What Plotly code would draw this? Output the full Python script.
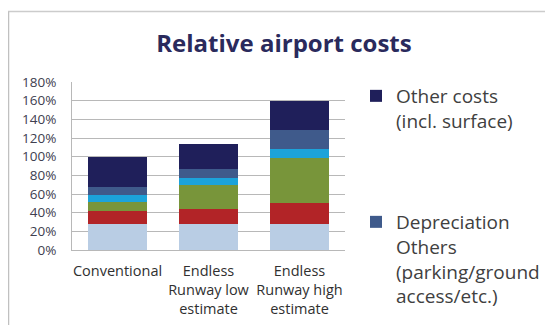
import plotly.graph_objects as go

categories = ["Conventional", "Endless<br>Runway low<br>estimate", "Endless<br>Runway high<br>estimate"]

# stacked shares (%), bottom to top
seg1 = [28, 28, 28]   # light blue
seg2 = [14, 16, 22]   # red
seg3 = [9, 26, 49]    # green
seg4 = [8, 7, 9]      # cyan
seg5 = [9, 10, 21]    # slate (Depreciation)
seg6 = [32, 27, 31]   # navy (Other costs)

series_names = ["Component 1", "Component 2", "Component 3", "Component 4",
                "Depreciation<br>Others<br>(parking/ground<br>access/etc.)",
                "Other costs<br>(incl. surface)"]
series_values = [seg1, seg2, seg3, seg4, seg5, seg6]
colors = ["#b9cde4", "#b22427", "#78953a", "#1ca3da", "#3f5a8b", "#1f1f5a"]
show = [False, False, False, False, True, True]
legends = ["legend", "legend", "legend", "legend", "legend2", "legend"]

tick_vals = [0, 20, 40, 60, 80, 100, 120, 140, 160, 180]
tick_text = ["0%", "20%", "40%", "60%", "80%", "100%", "120%", "140%", "160%", "180%"]

FONT = "Open Sans"

fig = go.Figure()
for name, vals, col, sh, lg in zip(series_names, series_values, colors, show, legends):
    fig.add_trace(go.Bar(x=categories, y=vals, name=name, marker_color=col,
                         marker_line_width=0, showlegend=sh, legend=lg))

# page has an 8px body margin; work in screen coordinates and subtract it
OFF = 8
W, H = 553 - OFF, 325 - OFF
# plot area in screen pixels
SX0, SX1, SY0, SY1 = 72, 345, 82, 250
L, R = SX0 - OFF, W - (SX1 - OFF)
T, B = SY0 - OFF, H - (SY1 - OFF)
pw, ph = W - L - R, H - T - B

def px_x(x):
    return (x - OFF - L) / pw

def px_y(y):
    return (H - B - (y - OFF)) / ph

fig.update_layout(
    width=W, height=H,
    margin=dict(l=L, r=R, t=T, b=B, autoexpand=False),
    barmode="stack", bargap=0.35,
    paper_bgcolor="white", plot_bgcolor="white",
    title=dict(text="<b>Relative airport costs</b>", x=(284 - OFF) / W,
               y=1 - (44 - OFF) / H, xanchor="center", yanchor="middle",
               font=dict(family=FONT, size=24, color="#2a2a5c")),
    font=dict(family=FONT, color="#404048"),
    yaxis=dict(range=[0, 180], tickvals=tick_vals, ticktext=tick_text,
               showgrid=True, gridcolor="#b8b8b8", gridwidth=1,
               showline=True, linecolor="#b8b8b8", linewidth=1,
               zeroline=False, ticks="", ticklabelstandoff=12,
               tickfont=dict(family=FONT, size=13.5, color="#404050")),
    xaxis=dict(showline=True, linecolor="#b8b8b8", linewidth=1, ticks="",
               ticklabelstandoff=8,
               tickfont=dict(family=FONT, size=14.5, color="#303030")),
    legend=dict(x=px_x(356), y=px_y(77), xanchor="left", yanchor="top",
                valign="top", traceorder="reversed",
                font=dict(family=FONT, size=19, color="#404040"),
                bgcolor="rgba(0,0,0,0)"),
    legend2=dict(x=px_x(356), y=px_y(203), xanchor="left", yanchor="top",
                 valign="top",
                 font=dict(family=FONT, size=19, color="#404040"),
                 bgcolor="rgba(0,0,0,0)"),
    shapes=[
        dict(type="line", xref="paper", yref="paper",
             x0=px_x(8), x1=px_x(560), y0=px_y(11.5), y1=px_y(11.5),
             line=dict(color="#cccccc", width=1.5)),
        dict(type="line", xref="paper", yref="paper",
             x0=px_x(8.5), x1=px_x(8.5), y0=px_y(11.5), y1=px_y(330),
             line=dict(color="#c0c0c0", width=1.5)),
    ],
)

fig.write_html("out.html")
